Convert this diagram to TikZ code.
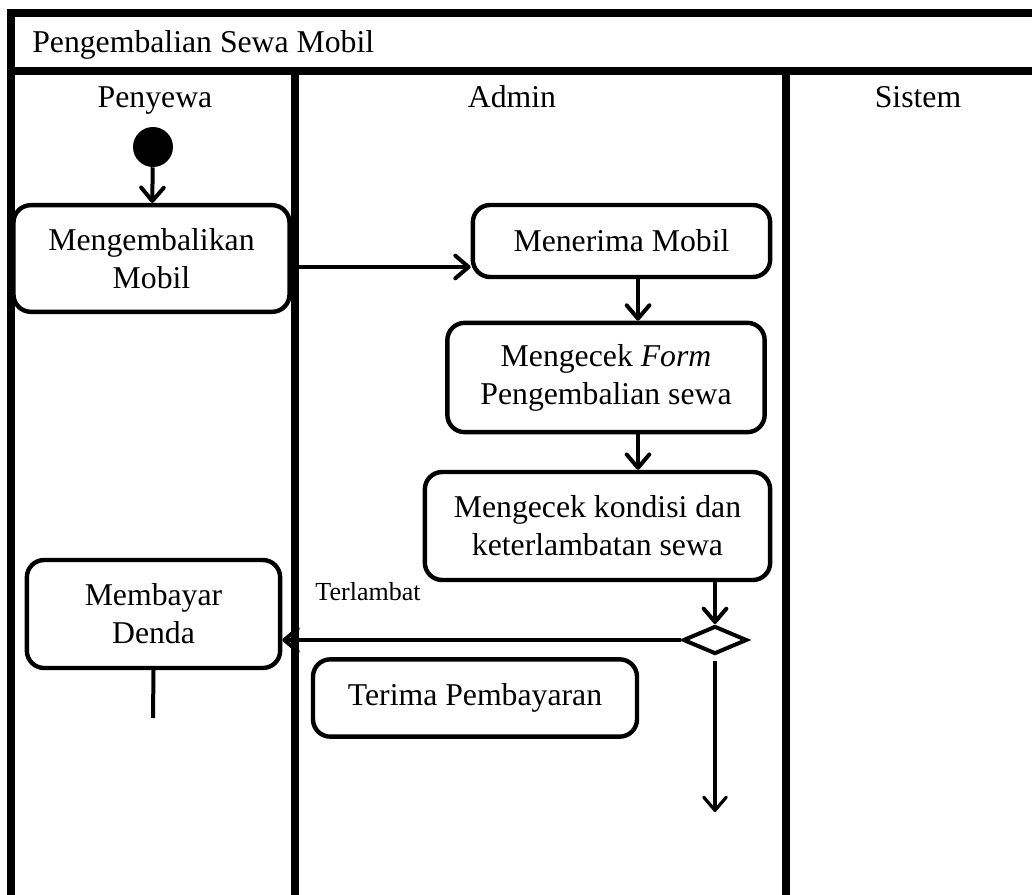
\documentclass[tikz,border=0pt]{standalone}
\usepackage{fontspec}
\setmainfont{Liberation Serif}
\usetikzlibrary{arrows.meta,shapes.geometric}
\begin{document}
\begin{tikzpicture}[x=0.75pt,y=-0.75pt,
  lane/.style={line width=6pt},
  act/.style={draw,line width=3.3pt,rounded corners=13pt,align=center,inner sep=0pt,
    font=\fontsize{23.8}{28.5}\selectfont},
  flow/.style={line width=3pt,-{Straight Barb[length=10pt,width=17pt,line width=3pt,round]}},
  lbl/.style={font=\fontsize{23.8}{28.5}\selectfont,inner sep=0pt}]
\useasboundingbox (0,0) rectangle (1032,895);
% swimlane frame
\coordinate (tl) at (11,13);
\coordinate (tr) at (1036,13);
\coordinate (hl) at (11,71);
\coordinate (hr) at (1036,71);
\coordinate (bl) at (11,900);
\coordinate (d1t) at (295,71);
\coordinate (d1b) at (295,900);
\coordinate (d2t) at (786,71);
\coordinate (d2b) at (786,900);
\draw[lane] (tr) -- (tl) -- (bl);
\draw[lane] (hl) -- (hr);
\draw[lane] (d1t) -- (d1b);
\draw[lane] (d2t) -- (d2b);
\node[lbl,anchor=base west] (title) at (32,53) {Pengembalian Sewa Mobil};
\node[lbl,anchor=base] (ln1) at (155,108) {Penyewa};
\node[lbl,anchor=base] (ln2) at (512,108) {Admin};
\node[lbl,anchor=base] (ln3) at (918,108) {Sistem};
% activities
\node[circle,fill=black,minimum size=30pt,inner sep=0pt] (start) at (153,147) {};
\node[act,minimum width=207pt,minimum height=80pt] (m1) at (151.5,258.5) {Mengembalikan\\Mobil};
\node[act,minimum width=223pt,minimum height=54pt] (m2) at (621.5,241) {Menerima Mobil};
\node[act,minimum width=238pt,minimum height=82pt] (m3) at (606,377.5) {Mengecek \textit{Form}\\Pengembalian sewa};
\node[act,minimum width=259pt,minimum height=81pt] (m4) at (597.5,526) {Mengecek kondisi dan\\keterlambatan sewa};
\node[act,minimum width=190pt,minimum height=81pt] (m5) at (153.5,614) {Membayar\\Denda};
\node[act,minimum width=243pt,minimum height=58pt] (m6) at (475,698) {Terima Pembayaran};
\node[diamond,draw,line width=3pt,minimum width=48pt,minimum height=21pt,inner sep=0pt] (dec) at (715,640) {};
\node[font=\fontsize{19.5}{23}\selectfont,inner sep=0pt] (late) at (368,592) {Terlambat};
\coordinate (endA) at (715,812);
\coordinate (endB) at (153,718);
% connectors
\draw[flow] (start) -- (m1);
\draw[flow] (m1.east |- 0,267) -- (m2.west |- 0,267);
\draw[flow] (m2.south -| 638,0) -- (m3.north -| 638,0);
\draw[flow] (m3.south -| 638,0) -- (m4.north -| 638,0);
\draw[flow] (m4.south -| dec.north) -- (dec.north);
\draw[flow] (dec.west) -- (m5.east |- dec.west);
\draw[line width=2.4pt,-{Straight Barb[length=10pt,width=17pt,line width=2.4pt,round]}] ([yshift=-4pt]dec.south) -- (endA);
\draw[line width=3pt] (m5.south) -- (endB);
\end{tikzpicture}
\end{document}
